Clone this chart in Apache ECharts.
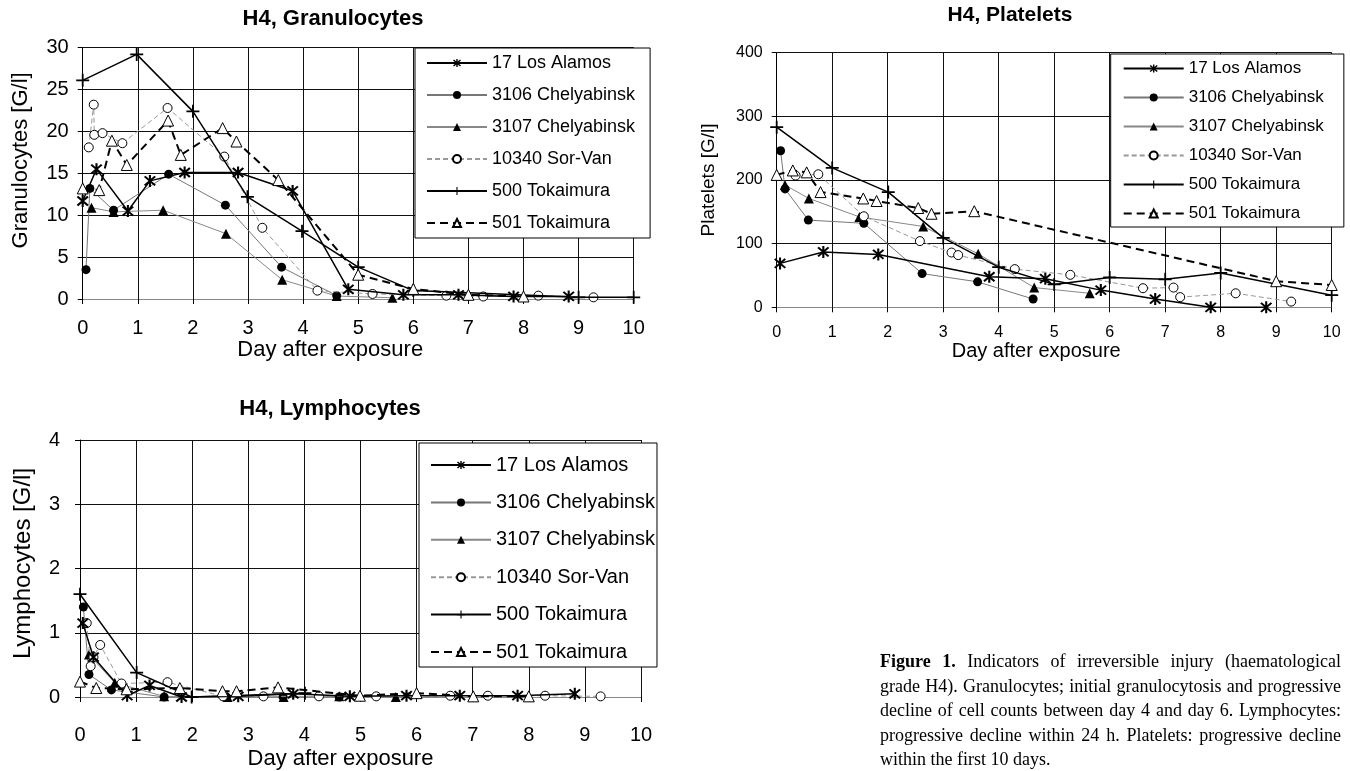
<!DOCTYPE html>
<html>
<head>
<meta charset="utf-8">
<title>Figure 1 – H4 haematological indicators</title>
<script src="https://cdn.jsdelivr.net/npm/echarts@6/dist/echarts.min.js"></script>
<style>
html,body{margin:0;padding:0;background:#fff;overflow:hidden;}
#wrap{position:relative;width:1350px;height:771px;}
#chart{position:absolute;left:0;top:0;width:1350px;height:771px;}
#caption{position:absolute;left:880px;top:649px;width:461px;font-family:"Liberation Serif","Times New Roman",serif;font-size:18px;line-height:24.5px;color:#000;}
#caption div{text-align:justify;text-align-last:justify;}
#caption div.last{text-align:left;text-align-last:left;}
</style>
</head>
<body>
<div id="wrap">
  <div id="chart"></div>
  <div id="caption">
    <div><b>Figure 1.</b> Indicators of irreversible injury (haematological</div>
    <div>grade H4). Granulocytes; initial granulocytosis and progressive</div>
    <div>decline of cell counts between day 4 and day 6. Lymphocytes:</div>
    <div>progressive decline within 24 h. Platelets: progressive decline</div>
    <div class="last">within the first 10 days.</div>
  </div>
</div>
<script>
// ---------------- DATA ----------------
const seriesNames = ['17 Los Alamos', '3106 Chelyabinsk', '3107 Chelyabinsk', '10340 Sor-Van', '500 Tokaimura', '501 Tokaimura'];
const dayTicks = [0, 1, 2, 3, 4, 5, 6, 7, 8, 9, 10];
const granTicks = [0, 5, 10, 15, 20, 25, 30];
const platTicks = [0, 100, 200, 300, 400];
const lymphTicks = [0, 1, 2, 3, 4];

// Granulocytes [G/l]  (day, value)
const granLosAlamos = [[0,11.7],[0.25,15.5],[0.82,10.5],[1.22,14.1],[1.85,15.1],[2.82,15.1],[3.81,12.9],[4.82,1.15],[5.82,0.5],[6.82,0.5],[7.82,0.3],[8.82,0.3]];
const granChel3106 = [[0.06,3.5],[0.13,13.2],[0.56,10.6],[1.56,14.9],[2.59,11.2],[3.61,3.8],[4.61,0.4]];
const granChel3107 = [[0.16,10.9],[0.56,10.4],[1.46,10.6],[2.6,7.8],[3.62,2.3],[4.61,0.35],[5.62,0.15]];
const granSorVan = [[0.11,18.1],[0.2,23.2],[0.21,19.6],[0.36,19.8],[0.72,18.6],[1.54,22.8],[2.57,17.0],[3.26,8.5],[4.26,1.0],[5.26,0.6],[6.6,0.4],[7.27,0.3],[8.27,0.4],[9.27,0.2]];
const granTok500 = [[0,26.1],[0.98,29.2],[2.0,22.4],[2.99,12.2],[3.98,8.1],[5.0,3.8],[6.0,1.0],[9.0,0.2],[10,0.2]];
const granTok501 = [[0,13.2],[0.3,13.0],[0.53,18.9],[0.8,16.0],[1.55,21.3],[1.78,17.2],[2.54,20.4],[2.79,18.8],[3.55,14.2],[5.0,2.9],[6.0,1.2],[7.0,0.5],[8.0,0.3]];

// Platelets [G/l]
const platLosAlamos = [[0.06,69],[0.84,87],[1.83,83],[3.83,48],[4.84,45],[5.84,27],[6.82,13],[7.82,0],[8.82,0]];
const platChel3106 = [[0.07,246],[0.15,186],[0.57,137],[1.57,132],[2.62,53],[3.62,40],[4.62,13]];
const platChel3107 = [[0.15,192],[0.58,171],[1.49,142],[2.64,127],[3.63,84],[4.64,31],[5.64,22]];
const platSorVan = [[0.34,207],[0.75,209],[1.57,143],[2.58,104],[3.15,86],[3.27,82],[4.29,60],[5.29,51],[6.6,30],[7.15,31],[7.27,16],[8.27,22],[9.27,9]];
const platTok500 = [[0,283],[1.0,219],[2.01,181],[3.0,109],[4.0,63],[5.0,36],[6.0,47],[7.0,44],[8.0,54],[10,19]];
const platTok501 = [[0,208],[0.29,215],[0.54,212],[0.79,181],[1.56,171],[1.8,167],[2.55,156],[2.79,147],[3.56,151],[9.0,41],[10,35]];

// Lymphocytes [G/l]
const lymphLosAlamos = [[0.05,1.15],[0.24,0.62],[0.84,0.02],[1.24,0.18],[1.81,0.0],[2.82,0.01],[3.8,0.05],[4.81,0.01],[5.82,0.02],[6.77,0.02],[7.8,0.02],[8.82,0.05]];
const lymphChel3106 = [[0.06,1.4],[0.16,0.35],[0.56,0.11],[1.5,0.0],[2.61,0.0],[3.62,0.0],[4.62,0.0]];
const lymphChel3107 = [[0.16,0.66],[0.62,0.22],[1.5,0.01],[2.63,0.0],[3.63,0.0],[4.62,0.01],[5.63,0.0]];
const lymphSorVan = [[0.12,1.15],[0.19,0.48],[0.24,0.62],[0.36,0.81],[0.74,0.21],[1.56,0.23],[2.55,0.01],[3.27,0.01],[4.26,0.01],[5.28,0.01],[6.6,0.02],[7.27,0.02],[8.29,0.02],[9.28,0.01]];
const lymphTok500 = [[0,1.6],[1.01,0.38],[1.99,0.0],[4.01,0.06]];
const lymphTok501 = [[0,0.24],[0.29,0.14],[0.83,0.12],[1.78,0.14],[2.54,0.09],[2.79,0.09],[3.53,0.15],[4.99,0.02],[6.0,0.06],[7.01,0.01],[8.0,0.01]];

// ---------------- STYLES ----------------
const FONT = 'Liberation Sans';
const STAR = 'path://M8.8,2L11.2,2L11.2,18L8.8,18Z M3.15,4.85L4.85,3.15L16.85,15.15L15.15,16.85Z M15.15,3.15L16.85,4.85L4.85,16.85L3.15,15.15Z';
const PLUS = 'path://M8.9,2L11.1,2L11.1,18L8.9,18Z M2,8.9L18,8.9L18,11.1L2,11.1Z';
const styles = {
  '17 Los Alamos':   {symbol: STAR, size: 12, fill: '#000', bw: 0, lc: '#000', lw: 1.5, lt: 'solid', z: 5},
  '3106 Chelyabinsk':{symbol: 'circle', size: 9, fill: '#000', bw: 0, lc: '#777', lw: 1, lt: 'solid', z: 3},
  '3107 Chelyabinsk':{symbol: 'triangle', size: 10, fill: '#000', bw: 0, lc: '#888', lw: 1, lt: 'solid', z: 3},
  '10340 Sor-Van':   {symbol: 'circle', size: 9, fill: '#fff', bw: 1, lc: '#999', lw: 1, lt: [5, 3], z: 4},
  '500 Tokaimura':   {symbol: PLUS, size: 13, fill: '#000', bw: 0, lc: '#000', lw: 1.5, lt: 'solid', z: 5},
  '501 Tokaimura':   {symbol: 'triangle', size: 11, fill: '#fff', bw: 1, lc: '#000', lw: 2, lt: [8, 5], z: 6}
};

const panels = [
  {key: 'gran', data: [granLosAlamos, granChel3106, granChel3107, granSorVan, granTok500, granTok501], ticks: granTicks},
  {key: 'plat', data: [platLosAlamos, platChel3106, platChel3107, platSorVan, platTok500, platTok501], ticks: platTicks},
  {key: 'lymph', data: [lymphLosAlamos, lymphChel3106, lymphChel3107, lymphSorVan, lymphTok500, lymphTok501], ticks: lymphTicks}
];

// layout (px)
const layout = {
  gran:  {grid: {left: 82.7, top: 47.7, width: 551, height: 251.3}, tick: 20, yname: 'Granulocytes [G/l]', ynameSize: 22, ynameGap: 51, ynameShift: 26, ylabMargin: 14, xlabMargin: 19, xnameSize: 22, xnameGap: 40, xnameShift: 56,
          title: 'H4, Granulocytes', titleSize: 22, titleCx: 333, titleTop: 8,
          legend: {left: 415, top: 48, font: 18, lh: 20, gap: 12, pad: [5, 15, 5, 11]}},
  plat:  {grid: {left: 776.7, top: 52.7, width: 555, height: 254.6}, tick: 16, yname: 'Platelets [G/l]', ynameSize: 19, ynameGap: 58, ynameShift: 0, ylabMargin: 14, xlabMargin: 17, xnameSize: 20, xnameGap: 34, xnameShift: 36,
          title: 'H4, Platelets', titleSize: 21, titleCx: 1010, titleTop: 5,
          legend: {left: 1110.7, top: 54, font: 17, lh: 19, gap: 10, pad: [5, 20, 4, 12]}},
  lymph: {grid: {left: 80, top: 440, width: 561, height: 257.3}, tick: 20, yname: 'Lymphocytes [G/l]', ynameSize: 24, ynameGap: 45, ynameShift: 10, ylabMargin: 20, xlabMargin: 28, xnameSize: 22, xnameGap: 51, xnameShift: 40,
          title: 'H4, Lymphocytes', titleSize: 22, titleCx: 330, titleTop: 398,
          legend: {left: 419, top: 443, font: 20, lh: 22, gap: 15.4, pad: [11, 2, 4, 11]}}
};

const ctx = document.createElement('canvas').getContext('2d');
function textWidth(t, size, weight) {
  ctx.font = (weight || 'normal') + ' ' + size + 'px "' + FONT + '", Arial, sans-serif';
  return ctx.measureText(t).width;
}

const grids = [], xAxes = [], yAxes = [], series = [], titles = [], legends = [];
panels.forEach((p, i) => {
  const L = layout[p.key];
  grids.push(Object.assign({containLabel: false}, L.grid));
  xAxes.push({
    type: 'value', gridIndex: i, min: dayTicks[0], max: dayTicks[dayTicks.length - 1], interval: dayTicks[1] - dayTicks[0],
    name: 'Day after exposure', nameLocation: 'middle', nameGap: L.xnameGap,
    nameTextStyle: {fontSize: L.xnameSize, color: '#000', fontFamily: FONT, padding: [0, L.xnameShift, 0, 0]},
    axisLine: {show: true, onZero: false, lineStyle: {color: '#888', width: 1}},
    axisTick: {show: true, length: 5, lineStyle: {color: '#000'}},
    axisLabel: {fontSize: L.tick, color: '#000', fontFamily: FONT, margin: L.xlabMargin},
    splitLine: {show: true, lineStyle: {color: '#111', width: 1}}
  });
  yAxes.push({
    type: 'value', gridIndex: i, min: p.ticks[0], max: p.ticks[p.ticks.length - 1], interval: p.ticks[1] - p.ticks[0],
    name: L.yname, nameLocation: 'middle', nameGap: L.ynameGap,
    nameTextStyle: {fontSize: L.ynameSize, color: '#000', fontFamily: FONT, padding: [0, 0, 0, L.ynameShift]},
    axisLine: {show: true, lineStyle: {color: '#000', width: 1}},
    axisTick: {show: true, length: 5, lineStyle: {color: '#000'}},
    axisLabel: {fontSize: L.tick, color: '#000', fontFamily: FONT, margin: L.ylabMargin},
    splitLine: {show: true, lineStyle: {color: '#111', width: 1}}
  });
  seriesNames.forEach((name, k) => {
    const st = styles[name];
    series.push({
      type: 'line', name: name, xAxisIndex: i, yAxisIndex: i, data: p.data[k],
      symbol: st.symbol, symbolSize: st.size, showSymbol: true, showAllSymbol: true,
      lineStyle: {color: st.lc, width: st.lw, type: st.lt},
      itemStyle: {color: st.fill, borderColor: '#000', borderWidth: st.bw},
      z: st.z, silent: true, emphasis: {disabled: true}
    });
  });
  const tw = textWidth(L.title, L.titleSize, 'bold');
  titles.push({text: L.title, left: L.titleCx - tw / 2, top: L.titleTop, padding: 0,
    textStyle: {fontSize: L.titleSize, fontWeight: 'bold', color: '#000', fontFamily: FONT}});
  const lg = L.legend;
  legends.push({
    orient: 'vertical', left: lg.left, top: lg.top, padding: lg.pad, itemGap: lg.gap,
    itemWidth: 60, itemHeight: 10, selectedMode: false,
    borderColor: '#000', borderWidth: 1, backgroundColor: '#fff',
    textStyle: {fontSize: lg.font, lineHeight: lg.lh, color: '#000', fontFamily: FONT},
    data: seriesNames, z: 10
  });
});

const chart = echarts.init(document.getElementById('chart'), null, {renderer: 'canvas'});
chart.setOption({
  animation: false,
  backgroundColor: '#fff',
  textStyle: {fontFamily: FONT},
  title: titles,
  legend: legends,
  grid: grids,
  xAxis: xAxes,
  yAxis: yAxes,
  series: series
});
</script>
</body>
</html>
